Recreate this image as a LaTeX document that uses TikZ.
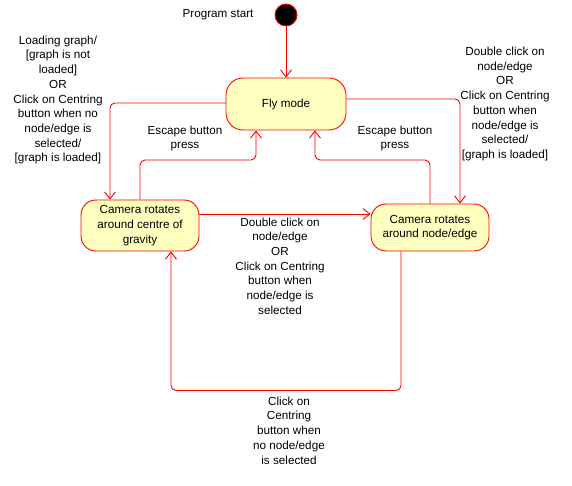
\documentclass[tikz,border=0pt]{standalone}
\usepackage{fontspec}
\setmainfont{Liberation Sans}
\usetikzlibrary{arrows.meta}
\definecolor{statefill}{RGB}{255,255,192}
\definecolor{linered}{RGB}{255,0,0}
\tikzset{
  txt/.style={font=\fontsize{11.7}{14.7}\selectfont, align=center, inner sep=0pt},
  statebox/.style={draw=linered, fill=statefill, rounded corners=15pt, line width=0.9pt,
    font=\fontsize{11.7}{14.7}\selectfont, align=center, inner sep=0pt},
  conn/.style={draw=linered, line width=0.9pt, rounded corners=5pt,
    -{Straight Barb[length=7pt,width=11pt]}},
}
\begin{document}
\begin{tikzpicture}[x=1pt,y=-1pt]
\useasboundingbox (0,0) rectangle (572,486);
% start
\node[circle, fill=black, draw=linered, line width=0.9pt, minimum size=22pt, inner sep=0pt] (start) at (286,15) {};
\node[txt] (lstart) at (218,15) {Program start};
% states
\node[statebox, minimum width=120pt, minimum height=52pt, rounded corners=17pt] (fly) at (286,104) {Fly mode};
\node[statebox, minimum width=118pt, minimum height=51pt] (cam1) at (140,225.5) {Camera rotates\\around centre of\\gravity};
\node[statebox, minimum width=118pt, minimum height=47pt] (cam2) at (430,227.5) {Camera rotates\\around node/edge};
% helper coordinates
\coordinate (c1up) at (140,160);
\coordinate (c2up) at (430,160);
% connectors
\draw[conn] (start) -- (fly);
\draw[conn] ([yshift=1pt]fly.west) -| ([xshift=-30pt]cam1.north);
\draw[conn] ([yshift=5pt]fly.east) -| ([xshift=30pt]cam2.north);
\draw[conn] (cam1.north) -- (c1up) -| ([xshift=-30pt]fly.south);
\draw[conn] (cam2.north) -- (c2up) -| ([xshift=29pt]fly.south);
\draw[conn] ([yshift=11.5pt]cam1.east) -- ([yshift=13.5pt]cam2.west);
\draw[conn] ([xshift=-29pt]cam2.south) -- ++(0,139) -| ([xshift=31pt]cam1.south);
% labels
\node[txt] (l1) at (58,100) {Loading graph/\\[0pt][graph is not\\loaded]\\OR\\Click on Centring\\button when no\\node/edge is\\selected/\\[0pt][graph is loaded]};
\node[txt] (l2) at (505,104) {Double click on\\node/edge\\OR\\Click on Centring\\button when\\node/edge is\\selected/\\[0pt][graph is loaded]};
\node[txt] (l3) at (185,138.5) {Escape button\\press};
\node[txt] (l4) at (395,138.5) {Escape button\\press};
\node[txt] (l5) at (280,266) {Double click on\\node/edge\\OR\\Click on Centring\\button when\\node/edge is\\selected};
\node[txt] (l6) at (289,430.5) {Click on\\Centring\\button when\\no node/edge\\is selected};
\end{tikzpicture}
\end{document}
